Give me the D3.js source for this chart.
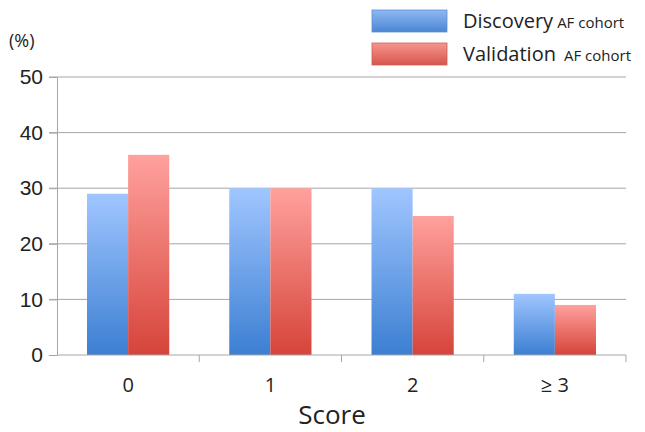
<!DOCTYPE html>
<html><head><meta charset="utf-8">
<script src="https://cdn.jsdelivr.net/npm/d3@7"></script>
<style>body{margin:0;background:#fff;}svg{display:block;font-family:"Open Sans","Noto Sans",sans-serif;}</style>
</head><body><svg id="c" width="645" height="432"></svg>
<script>
const categories = ["0", "1", "2", "\u2265 3"];
const discovery = [29, 30, 30, 11];
const validation = [36, 30, 25, 9];
const yTicks = [0, 10, 20, 30, 40, 50];
const seriesNames = ["Discovery", "Validation"];

const svg = d3.select("#c");
const pLeft = 57, pRight = 626, pTop = 77, pBottom = 355;
const x = d3.scaleBand().domain(categories).range([pLeft, pRight]).paddingInner(0).paddingOuter(0);
const y = d3.scaleLinear().domain([0, 50]).range([pBottom, pTop]);
const sub = d3.scaleBand().domain([0, 1]).range([0, x.bandwidth()]).paddingOuter(0.73).paddingInner(0);

const defs = svg.append("defs");
function grad(id, c1, c2) {
  const g = defs.append("linearGradient").attr("id", id).attr("x1", 0).attr("y1", 0).attr("x2", 0).attr("y2", 1);
  g.append("stop").attr("offset", "0%").attr("stop-color", c1);
  g.append("stop").attr("offset", "100%").attr("stop-color", c2);
}
grad("gb", "#a0c6ff", "#3c7fd2");
grad("gr", "#ffa19d", "#d6443a");
grad("gbl", "#8fb8f2", "#4a86d4");
grad("grl", "#f7958f", "#d6564c");

// gridlines
svg.append("g").selectAll("line").data(yTicks.filter(d => d > 0)).join("line")
  .attr("x1", pLeft - 8).attr("x2", pRight).attr("y1", d => y(d)).attr("y2", d => y(d))
  .attr("stroke", "#a6a6a6").attr("stroke-width", 1);

// y axis
const yAxis = svg.append("g").attr("transform", `translate(${pLeft},0)`)
  .call(d3.axisLeft(y).tickValues(yTicks).tickSize(8).tickPadding(6));
yAxis.select(".domain").attr("stroke", "#a6a6a6");
yAxis.selectAll(".tick line").attr("stroke", "#a6a6a6");
yAxis.selectAll("text").attr("font-size", 21).attr("fill", "#222");

// bars
const fills = ["url(#gb)", "url(#gr)"];
const data = [discovery, validation];
categories.forEach((c, i) => {
  data.forEach((s, k) => {
    svg.append("rect")
      .attr("x", x(c) + sub(k)).attr("width", sub.bandwidth())
      .attr("y", y(s[i])).attr("height", y(0) - y(s[i]))
      .attr("fill", fills[k]);
  });
});

// x axis
svg.append("line").attr("x1", pLeft).attr("x2", pRight).attr("y1", pBottom).attr("y2", pBottom).attr("stroke", "#a6a6a6");
const bounds = categories.map(c => x(c) + x.bandwidth());
svg.append("g").selectAll("line").data(bounds).join("line")
  .attr("x1", d => d).attr("x2", d => d).attr("y1", pBottom).attr("y2", pBottom + 7).attr("stroke", "#a6a6a6");
svg.append("g").selectAll("text").data(categories).join("text")
  .attr("x", d => x(d) + x.bandwidth() / 2).attr("y", 392)
  .attr("text-anchor", "middle").attr("font-size", 20).attr("fill", "#222").text(d => d);

svg.append("text").attr("x", 332).attr("y", 424).attr("text-anchor", "middle")
  .attr("font-size", 26).attr("fill", "#222").text("Score");
svg.append("text").attr("x", 9).attr("y", 47).attr("font-size", 18).attr("fill", "#222").text("(%)");

// legend
const lg = svg.append("g");
const lfills = ["url(#gbl)", "url(#grl)"];
seriesNames.forEach((n, k) => {
  const yy = 10 + k * 33;
  lg.append("rect").attr("x", 372).attr("y", yy).attr("width", 75).attr("height", 22)
    .attr("fill", lfills[k]).attr("stroke", k ? "#c9605a" : "#5f8fcf").attr("stroke-width", 0.8);
  const t = lg.append("text").attr("x", 463).attr("y", yy + 18).attr("fill", "#222");
  t.append("tspan").attr("font-size", 20).text(n);
  t.append("tspan").attr("font-size", 15).attr("dx", k ? 8 : 4).text("AF cohort");
});
</script></body></html>
